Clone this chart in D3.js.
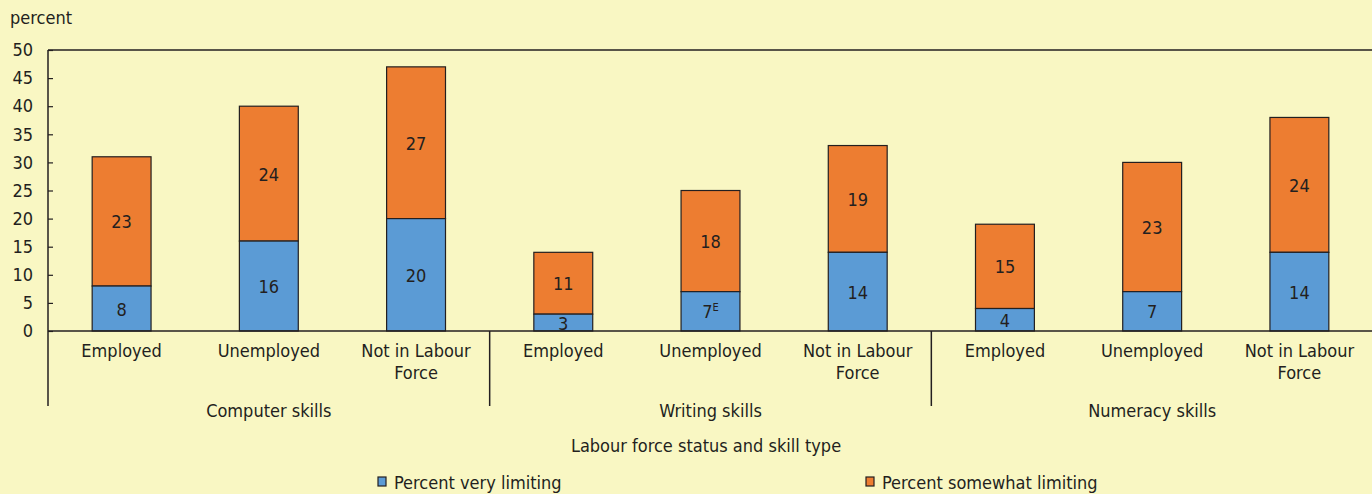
<!DOCTYPE html>
<html>
<head>
<meta charset="utf-8">
<script src="https://cdn.jsdelivr.net/npm/d3@7"></script>
<style>
  body { margin: 0; background: #f9f7c3; }
  svg text { font-family: "Liberation Sans Narrow", "DejaVu Sans Condensed", sans-serif; fill: #231f20; }
</style>
</head>
<body>
<div id="chart"></div>
<script>
// data
const groups = ["Computer skills", "Writing skills", "Numeracy skills"];
const statuses = ["Employed", "Unemployed", "Not in Labour Force"];
const veryLimiting = [8, 16, 20, 3, 7, 14, 4, 7, 14];
const somewhatLimiting = [23, 24, 27, 11, 18, 19, 15, 23, 24];
const veryFlags = ["", "", "", "", "E", "", "", "", ""];
const yTicks = [0, 5, 10, 15, 20, 25, 30, 35, 40, 45, 50];

const W = 1372, H = 494;
const plotLeft = 48, plotRight = 1373, plotTop = 50, plotBottom = 331;
const blue = "#5b9bd5", orange = "#ed7d31";

const cats = [];
groups.forEach((g, gi) => statuses.forEach((s, si) => cats.push({ key: gi + "-" + si, group: g, status: s, idx: gi * 3 + si })));

const svg = d3.select("#chart").append("svg")
    .attr("width", W)
    .attr("height", H);

svg.append("rect").attr("width", W).attr("height", H).attr("fill", "#f9f7c3");

const x = d3.scaleBand()
    .domain(cats.map(d => d.key))
    .range([plotLeft, plotRight])
    .paddingInner(0.6)
    .paddingOuter(0.3);

const y = d3.scaleLinear().domain([0, 50]).range([plotBottom, plotTop]);

// top border line
svg.append("line")
    .attr("x1", plotLeft).attr("x2", W)
    .attr("y1", y(50)).attr("y2", y(50))
    .attr("stroke", "#231f20").attr("stroke-width", 1.5);

// y axis (ticks point inward)
const yAxis = d3.axisLeft(y).tickValues(yTicks).tickSize(-5).tickPadding(15);
const ya = svg.append("g").attr("transform", `translate(${plotLeft},0)`).call(yAxis);
ya.select(".domain").remove();
ya.selectAll(".tick line").attr("stroke", "#231f20").attr("stroke-width", 1.2);
ya.selectAll(".tick text").attr("font-size", 18).attr("text-anchor", "end");

// y axis line running down through the category labels
svg.append("line")
    .attr("x1", plotLeft).attr("x2", plotLeft)
    .attr("y1", y(50)).attr("y2", 406)
    .attr("stroke", "#231f20").attr("stroke-width", 1.5);

svg.append("text")
    .attr("x", 10).attr("y", 24)
    .attr("font-size", 18)
    .text("percent");

// bars
const barG = svg.append("g");
cats.forEach(c => {
    const v = veryLimiting[c.idx], s = somewhatLimiting[c.idx];
    const bx = x(c.key), bw = x.bandwidth();
    barG.append("rect")
        .attr("x", bx).attr("y", y(v + s))
        .attr("width", bw).attr("height", y(v) - y(v + s))
        .attr("fill", orange).attr("stroke", "#231f20").attr("stroke-width", 1.2);
    barG.append("rect")
        .attr("x", bx).attr("y", y(v))
        .attr("width", bw).attr("height", y(0) - y(v))
        .attr("fill", blue).attr("stroke", "#231f20").attr("stroke-width", 1.2);

    const cx = bx + bw / 2;
    const t1 = barG.append("text")
        .attr("x", cx).attr("y", (y(v) + y(0)) / 2 + 7)
        .attr("text-anchor", "middle").attr("font-size", 18)
        .text(v);
    if (veryFlags[c.idx]) {
        t1.append("tspan").attr("font-size", 11).attr("dy", -7).text(veryFlags[c.idx]);
    }
    barG.append("text")
        .attr("x", cx).attr("y", (y(v + s) + y(v)) / 2 + 7)
        .attr("text-anchor", "middle").attr("font-size", 18)
        .text(s);
});

// baseline
svg.append("line")
    .attr("x1", plotLeft).attr("x2", W)
    .attr("y1", y(0)).attr("y2", y(0))
    .attr("stroke", "#231f20").attr("stroke-width", 1.5);

// category labels
cats.forEach(c => {
    const cx = x(c.key) + x.bandwidth() / 2;
    const t = svg.append("text").attr("text-anchor", "middle").attr("font-size", 18);
    if (c.status === "Not in Labour Force") {
        t.append("tspan").attr("x", cx).attr("y", 357).text("Not in Labour");
        t.append("tspan").attr("x", cx).attr("y", 379).text("Force");
    } else {
        t.attr("x", cx).attr("y", 357).text(c.status);
    }
});

// group separators and labels
groups.forEach((g, gi) => {
    const gx0 = plotLeft + gi * 3 * (plotRight - plotLeft) / 9;
    const gx1 = plotLeft + (gi + 1) * 3 * (plotRight - plotLeft) / 9;
    if (gi > 0) {
        svg.append("line")
            .attr("x1", gx0).attr("x2", gx0)
            .attr("y1", y(0)).attr("y2", 406)
            .attr("stroke", "#231f20").attr("stroke-width", 1.5);
    }
    svg.append("text")
        .attr("x", (gx0 + gx1) / 2).attr("y", 417)
        .attr("text-anchor", "middle").attr("font-size", 18)
        .text(g);
});

svg.append("text")
    .attr("x", 706).attr("y", 452)
    .attr("text-anchor", "middle").attr("font-size", 18)
    .text("Labour force status and skill type");

// legend
const legend = [
    { label: "Percent very limiting", color: blue, x: 378 },
    { label: "Percent somewhat limiting", color: orange, x: 866 }
];
legend.forEach(l => {
    svg.append("rect")
        .attr("x", l.x).attr("y", 477)
        .attr("width", 8).attr("height", 9)
        .attr("fill", l.color).attr("stroke", "#231f20").attr("stroke-width", 1.2);
    svg.append("text")
        .attr("x", l.x + 16).attr("y", 489)
        .attr("font-size", 18)
        .text(l.label);
});
</script>
</body>
</html>
